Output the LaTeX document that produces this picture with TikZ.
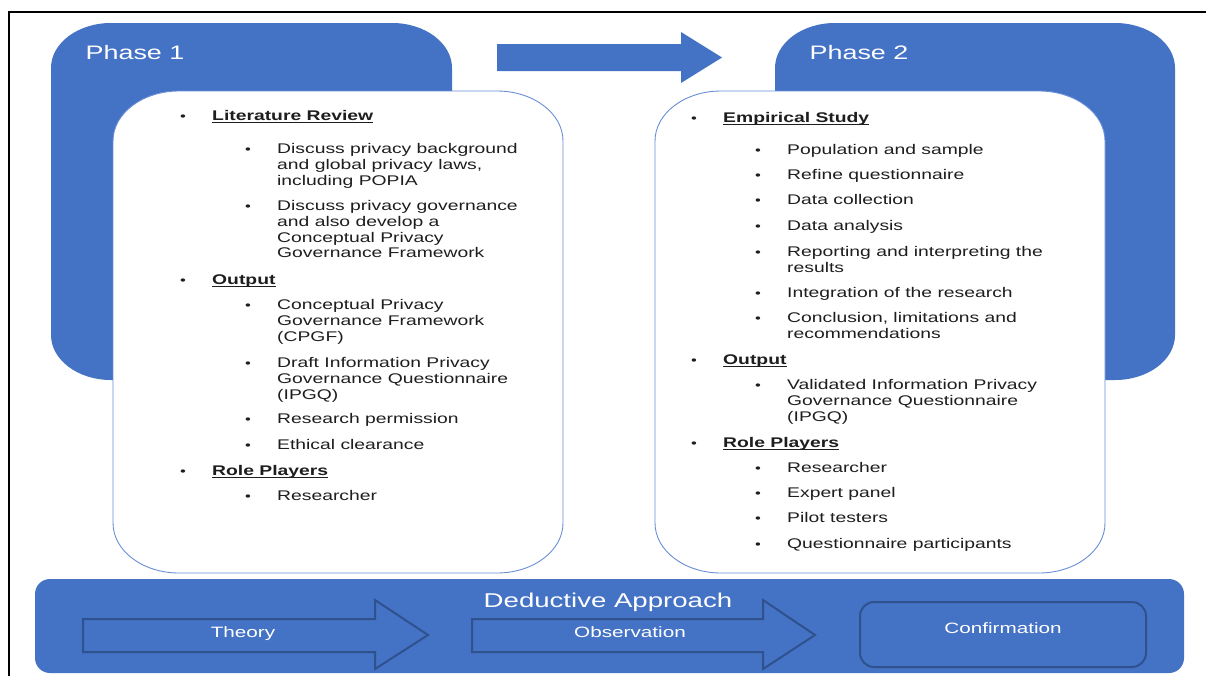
\documentclass[tikz,border=0pt]{standalone}
\usepackage{fontspec}
\setmainfont{Liberation Sans}[FakeStretch=1.38]
\definecolor{officeblue}{HTML}{4472C4}
\definecolor{edgeblue}{HTML}{2F528F}
\definecolor{rimblue}{HTML}{6A8ED6}
\definecolor{ink}{HTML}{1E1E1E}
% rectangle with elliptical corners: x1,y1 (top left), x2,y2 (bottom right), rx, ry
\newcommand\ellrect[6]{(#1+#5,#2) -- (#3-#5,#2)
  arc[start angle=-90,end angle=0,x radius=#5,y radius=#6] -- (#3,#4-#6)
  arc[start angle=0,end angle=90,x radius=#5,y radius=#6] -- (#1+#5,#4)
  arc[start angle=90,end angle=180,x radius=#5,y radius=#6] -- (#1,#2+#6)
  arc[start angle=180,end angle=270,x radius=#5,y radius=#6] -- cycle}
\tikzset{
  phasebox/.style={fill=officeblue},
  panel/.style={fill=white,draw=rimblue,line width=0.9pt},
  body/.style={font=\fontsize{14}{16}\selectfont,text=ink,inner sep=0pt,anchor=base west},
  head/.style={body,font=\fontsize{14}{16}\selectfont\bfseries},
  bul/.style={font=\fontsize{12}{14}\selectfont,text=ink,inner sep=0pt,anchor=base},
  uline/.style={draw=ink,line width=0.9pt},
  title/.style={font=\fontsize{19.5}{22}\selectfont,text=white,inner sep=0pt,anchor=base},
  steparrow/.style={fill=officeblue,draw=edgeblue,line width=2pt,line join=miter},
  steplabel/.style={font=\fontsize{15}{17}\selectfont,text=white,inner sep=0pt,anchor=base},
}
\begin{document}
\begin{tikzpicture}[x=1pt,y=-1pt]
\useasboundingbox (0,0) rectangle (1206,675);
\clip (0,0) rectangle (1206,675);
\fill[white] (0,0) rectangle (1206,675);
% outer frame
\draw[black,line width=2.6pt] (9,12) rectangle (1230,700);

% phase backgrounds
\fill[phasebox] \ellrect{51}{23}{452}{380}{60}{45};
\fill[phasebox] \ellrect{775}{23}{1175}{380}{60}{45};
\node[title] (ph1) at (135,59) {Phase 1};
\node[title] (ph2) at (859,59) {Phase 2};

% arrow between the phases
\fill[officeblue] (497,44) -- (681,44) -- (681,32) -- (722,57.5) -- (681,83) -- (681,71) -- (497,71) -- cycle;

% white content panels
\draw[panel] \ellrect{113}{91}{563}{573}{66}{50};
\draw[panel] \ellrect{655}{91}{1105}{573}{66}{50};

% Phase 1 headings
\foreach \n/\y/\t in {a/120/Literature Review, b/284/Output, c/475/Role Players}{
  \node[bul] (p1hb\n) at (183,\y) {\textbullet};
  \node[head] (p1h\n) at (212,\y) {\t};
  \draw[uline] ([yshift=-2.2pt]p1h\n.base west) -- ([yshift=-2.2pt]p1h\n.base east);
}
% Phase 1 entries
\foreach \y [count=\i] in {153,210,309,367,423,449,500}
  \node[bul] (p1sb\i) at (248,\y) {\textbullet};
\foreach \y/\t [count=\i] in {
  153/Discuss privacy background,
  169/{and global privacy laws,},
  185/including POPIA,
  210/Discuss privacy governance,
  226/and also develop a,
  242/Conceptual Privacy,
  257/Governance Framework,
  309/Conceptual Privacy,
  325/Governance Framework,
  341/(CPGF),
  367/Draft Information Privacy,
  383/Governance Questionnaire,
  399/(IPGQ),
  423/Research permission,
  449/Ethical clearance,
  500/Researcher}
  \node[body] (p1l\i) at (277,\y) {\t};

% Phase 2 headings
\foreach \n/\y/\t in {a/122/Empirical Study, b/364/Output, c/447/Role Players}{
  \node[bul] (p2hb\n) at (694,\y) {\textbullet};
  \node[head] (p2h\n) at (723,\y) {\t};
  \draw[uline] ([yshift=-2.2pt]p2h\n.base west) -- ([yshift=-2.2pt]p2h\n.base east);
}
% Phase 2 entries
\foreach \y [count=\i] in {154,179,204,230,256,297,322,389,472,497,522,548}
  \node[bul] (p2sb\i) at (758,\y) {\textbullet};
\foreach \y/\t [count=\i] in {
  154/Population and sample,
  179/Refine questionnaire,
  204/Data collection,
  230/Data analysis,
  256/Reporting and interpreting the,
  272/results,
  297/Integration of the research,
  322/{Conclusion, limitations and},
  338/recommendations,
  389/Validated Information Privacy,
  405/Governance Questionnaire,
  421/(IPGQ),
  472/Researcher,
  497/Expert panel,
  522/Pilot testers,
  548/Questionnaire participants}
  \node[body] (p2l\i) at (787,\y) {\t};

% deductive approach band
\fill[officeblue,rounded corners=15pt] (35,579) rectangle (1184,673);
\node[title,font=\fontsize{20}{24}\selectfont] (ded) at (608,607) {Deductive Approach};
\draw[steparrow] (83,619) -- (375,619) -- (375,600) -- (428,635) -- (375,669) -- (375,652) -- (83,652) -- cycle;
\node[steplabel] (theory) at (243,637) {Theory};
\draw[steparrow] (472,619) -- (763,619) -- (763,600) -- (815,635) -- (763,669) -- (763,652) -- (472,652) -- cycle;
\node[steplabel] (obs) at (630,637) {Observation};
\draw[steparrow,rounded corners=14pt] (860,602) rectangle (1146,667);
\node[steplabel] (conf) at (1003,633) {Confirmation};
\end{tikzpicture}
\end{document}
